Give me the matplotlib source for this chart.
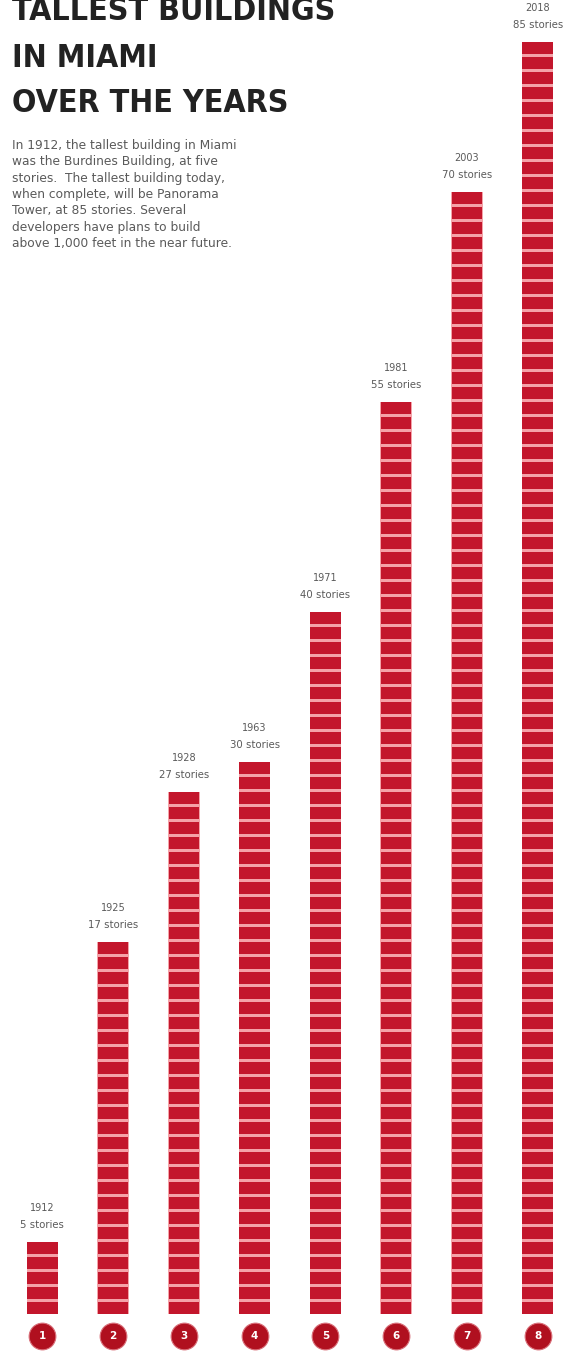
import numpy as np
import matplotlib
matplotlib.use('Agg')
import matplotlib.pyplot as plt
from matplotlib import font_manager

# Data
years = ['1912', '1925', '1928', '1963', '1971', '1981', '2003', '2018']
stories = [5, 17, 27, 30, 40, 55, 70, 85]
# number of floor blocks actually drawn in each column of the graphic
blocks = [5, 25, 35, 37, 47, 61, 75, 85]
badges = ['1', '2', '3', '4', '5', '6', '7', '8']

title_lines = ['TALLEST BUILDINGS', 'IN MIAMI', 'OVER THE YEARS']
intro_lines = [
    'In 1912, the tallest building in Miami',
    'was the Burdines Building, at five',
    'stories.  The tallest building today,',
    'when complete, will be Panorama',
    'Tower, at 85 stories. Several',
    'developers have plans to build',
    'above 1,000 feet in the near future.',
]

RED = '#c3162c'
DARK_RED = '#b0101f'
GAP = '#f4a2a8'
GREY = '#5a5a5a'

# pick a narrow face for the headline if one is there
narrow = [f for f in font_manager.fontManager.ttflist
          if ('Narrow' in f.name or f.stretch in ('condensed', 'semi-condensed', 550, 500))
          and f.weight in ('bold', 700)]
if narrow:
    title_prop = font_manager.FontProperties(fname=narrow[0].fname, size=23)
else:
    title_prop = font_manager.FontProperties(family='DejaVu Sans', weight='bold', size=20)

W, H = 567, 1352
fig = plt.figure(figsize=(W / 100, H / 100), dpi=100)
fig.patch.set_facecolor('white')
ax = fig.add_axes([0, 0, 1, 1])
ax.set_facecolor('white')

# axes in "floor" units: 15 px per floor, ground line at 1314 px
px_floor = 15.0
ground = 1314
spacing = 70.77
x0 = 42.3
ax.set_xlim(-x0 / spacing, (W - x0) / spacing)
ax.set_ylim(-(H - ground) / px_floor, ground / px_floor)
ax.axis('off')

bar_w = 31.5 / spacing
for i, n in enumerate(blocks):
    k = np.arange(n)
    # pink backing so the gaps between floors look light
    ax.bar(i, n - 0.2, bottom=0, width=bar_w, color=GAP, linewidth=0, zorder=1)
    ax.bar(np.full(n, i), np.full(n, 0.8), bottom=k, width=bar_w * 0.97,
           color=RED, linewidth=0, zorder=2)
    ax.text(i, n + 2.05, years[i], ha='center', va='center', fontsize=7,
            color=GREY, family='DejaVu Sans')
    ax.text(i, n + 0.9, f'{stories[i]} stories', ha='center', va='center',
            fontsize=7.3, color=GREY, family='DejaVu Sans')

# numbered badges under each column
xs = np.arange(len(badges))
ax.scatter(xs, np.full(len(xs), -1.47), s=370, color=DARK_RED,
           edgecolors='#d9707a', linewidths=0.8, zorder=3)
for i, b in enumerate(badges):
    ax.text(i, -1.47, b, ha='center', va='center', fontsize=7.5,
            fontweight='bold', color='white', zorder=4)

# title
title_base = [20, 67, 112]
for line, yb in zip(title_lines, title_base):
    fig.text(12 / W, 1 - yb / H, line, ha='left', va='baseline',
             color='#222222', fontproperties=title_prop)

# intro paragraph
for j, line in enumerate(intro_lines):
    y = 145.5 + j * 16.3
    fig.text(12 / W, 1 - y / H, line, ha='left', va='center',
             fontsize=8.8, color=GREY, family='DejaVu Sans')

plt.savefig('out.png', dpi=100, facecolor='white')
